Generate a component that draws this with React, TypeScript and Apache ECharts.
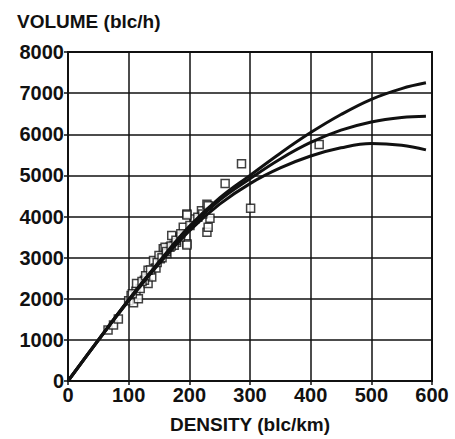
import React, { useEffect, useRef } from "react";
import * as echarts from "echarts";

const xTicks = [0, 100, 200, 300, 400, 500, 600];
const yTicks = [0, 1000, 2000, 3000, 4000, 5000, 6000, 7000, 8000];

const curveDensity = [0, 50, 100, 150, 200, 250, 300, 350, 400, 450, 500, 550, 590];
const curveTop = [0, 1000, 1980, 2900, 3760, 4450, 5000, 5540, 6040, 6480, 6850, 7110, 7250];
const curveMid = [0, 995, 1970, 2880, 3720, 4400, 4920, 5400, 5800, 6100, 6300, 6410, 6440];
const curveLow = [0, 990, 1950, 2850, 3650, 4300, 4800, 5180, 5470, 5670, 5775, 5730, 5620];

const obsDensity = [66, 75, 83, 100, 104, 108, 112, 116, 119, 113, 132, 138, 132, 141, 152, 157, 168, 171, 179, 190, 196, 196, 209, 220, 229, 229, 231, 234, 286, 259, 301, 231, 196, 160, 196, 126, 145, 150, 163, 175, 185, 414, 106, 122, 128, 136, 147, 155, 162, 170, 178, 186, 201, 214, 222];
const obsVolume = [1240, 1360, 1505, 1950, 2080, 1900, 2180, 2000, 2250, 2370, 2370, 2530, 2690, 2930, 2970, 3215, 3255, 3535, 3375, 3740, 4060, 3335, 3940, 4140, 4300, 3620, 3740, 3960, 5285, 4800, 4200, 4260, 4036, 3255, 3310, 2450, 2750, 3050, 3100, 3300, 3500, 5750, 2120, 2420, 2560, 2700, 2880, 3000, 3150, 3280, 3420, 3580, 3780, 3980, 4060];

const FONT = "'Liberation Sans', Arial, sans-serif";

export default function App() {
  const ref = useRef<HTMLDivElement>(null);
  useEffect(() => {
    if (!ref.current) return;
    const chart = echarts.init(ref.current, null, { renderer: "svg" });
    const mk = (ys: number[]) => curveDensity.map((d, i) => [d, ys[i]]);
    chart.setOption({
      animation: false,
      backgroundColor: "#fff",
      grid: { left: 68, right: 23, top: 52, bottom: 56, show: true, borderColor: "#111", borderWidth: 2 },
      xAxis: {
        type: "value", min: xTicks[0], max: xTicks[xTicks.length - 1], interval: 100,
        axisLine: { lineStyle: { color: "#111", width: 2 } },
        axisTick: { show: true, length: 4, lineStyle: { color: "#111", width: 1.5 } },
        splitLine: { lineStyle: { color: "#111", width: 1.5 } },
        axisLabel: { color: "#111", fontSize: 20, fontWeight: "bold", fontFamily: FONT, margin: 4, formatter: (v: number) => String(v) },
        name: "DENSITY (blc/km)", nameLocation: "middle", nameGap: 34,
        nameTextStyle: { color: "#111", fontSize: 19, fontWeight: "bold", fontFamily: FONT },
      },
      yAxis: {
        type: "value", min: yTicks[0], max: yTicks[yTicks.length - 1], interval: 1000,
        axisLine: { show: true, lineStyle: { color: "#111", width: 2 } },
        axisTick: { show: true, length: 4, lineStyle: { color: "#111", width: 1.5 } },
        splitLine: { lineStyle: { color: "#111", width: 1.5 } },
        axisLabel: { color: "#111", fontSize: 20, fontWeight: "bold", fontFamily: FONT, margin: 4, formatter: (v: number) => String(v) },
      },
      graphic: [
        { type: "text", left: 17, top: 12, style: { text: "VOLUME (blc/h)", fill: "#111", font: `bold 19px ${FONT}` } },
      ],
      series: [
        { type: "line", data: mk(curveTop), smooth: 0.4, showSymbol: false, lineStyle: { color: "#111", width: 3 }, z: 3 },
        { type: "line", data: mk(curveMid), smooth: 0.4, showSymbol: false, lineStyle: { color: "#111", width: 3 }, z: 3 },
        { type: "line", data: mk(curveLow), smooth: 0.4, showSymbol: false, lineStyle: { color: "#111", width: 3 }, z: 3 },
        {
          type: "scatter", data: obsDensity.map((d, i) => [d, obsVolume[i]]),
          symbol: "rect", symbolSize: 8,
          itemStyle: { color: "#fff", borderColor: "#111", borderWidth: 1.5 }, z: 2,
        },
      ],
    });
    return () => chart.dispose();
  }, []);
  return <div ref={ref} style={{ width: 455, height: 439, position: "absolute", left: 0, top: 0 }} />;
}
